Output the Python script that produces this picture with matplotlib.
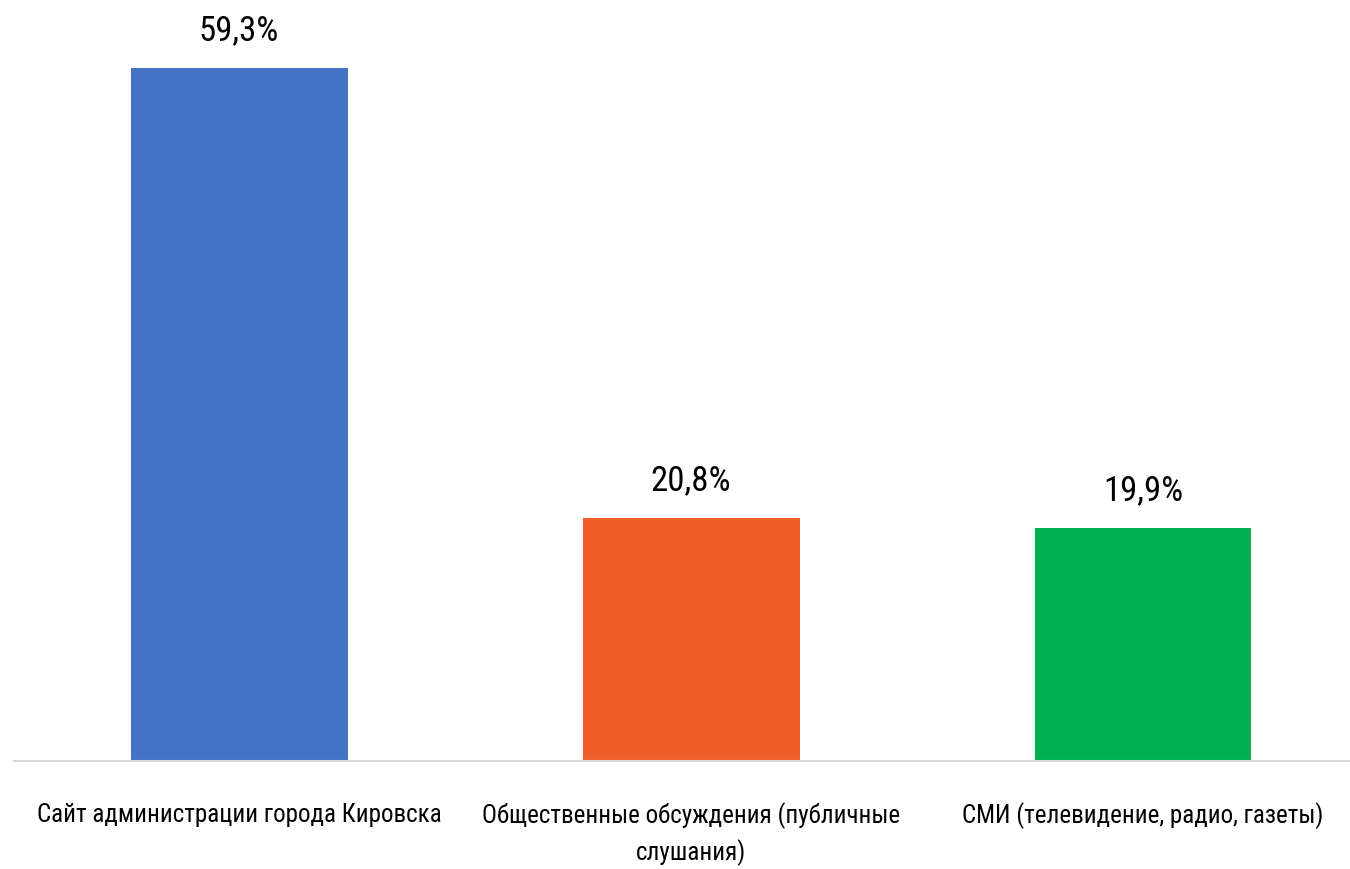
import matplotlib
matplotlib.use("Agg")
import matplotlib.pyplot as plt
from matplotlib import font_manager

categories = ["Сайт администрации города Кировска",
              "Общественные обсуждения (публичные\nслушания)",
              "СМИ (телевидение, радио, газеты)"]
values = [59.3, 20.8, 19.9]
value_labels = ["59,3%", "20,8%", "19,9%"]
colors = ["#4472C4", "#F15D2A", "#00B050"]

names = {f.name for f in font_manager.fontManager.ttflist}
family = "DejaVu Sans"
for cand in ["Liberation Sans Narrow", "Roboto Condensed", "DejaVu Sans Condensed", "Roboto", "Noto Sans"]:
    if cand in names:
        family = cand
        break
plt.rcParams['font.family'] = [family, 'DejaVu Sans']

fig = plt.figure(figsize=(13.5, 8.69), dpi=100)
ax = fig.add_axes([0.0104, 0.1243, 0.9896, 0.8757])
x = range(len(values))
ax.bar(x, values, width=0.48, color=colors, zorder=2)
ax.set_xlim(-0.498, 2.458)
ax.set_ylim(0, 65.1)
for xi, v, lab in zip(x, values, value_labels):
    ax.text(xi, v + 3.2, lab, ha="center", va="center", fontsize=25, color="#000000")
for s in ["top", "right", "left"]:
    ax.spines[s].set_visible(False)
ax.spines["bottom"].set_color("#D9D9D9")
ax.spines["bottom"].set_linewidth(1.5)
ax.set_yticks([])
ax.set_xticks(list(x))
ax.set_xticklabels(categories, fontsize=18, color="#000000", linespacing=1.45)
ax.tick_params(axis="x", length=0, pad=30)
fig.savefig("out.png", dpi=100)
